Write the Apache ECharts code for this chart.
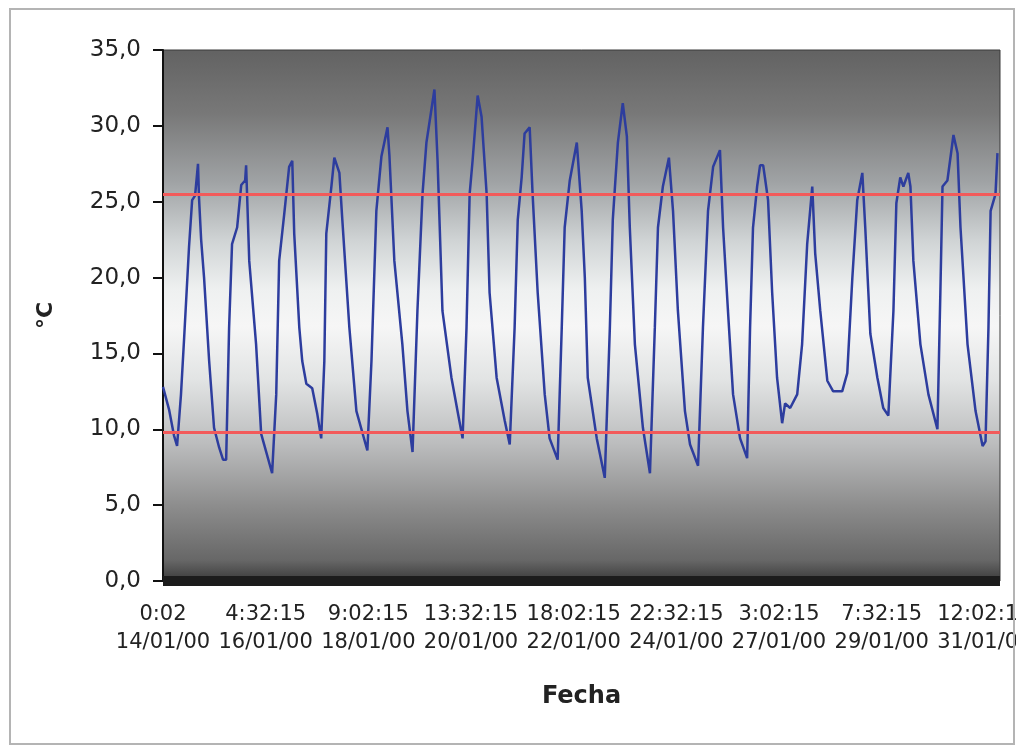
<!DOCTYPE html>
<html>
<head>
<meta charset="utf-8">
<script src="https://cdn.jsdelivr.net/npm/echarts@6/dist/echarts.min.js"></script>
<style>
html,body{margin:0;padding:0;background:#fff;}
#chart{position:absolute;left:0;top:0;width:1016px;height:747px;}
</style>
</head>
<body>
<div id="chart"></div>
<script>
// Hours elapsed since 14/01/00 0:02
const hours = [0,3.1,5.6,7.2,9.2,10.8,13.3,14.9,16.4,17.9,18.4,19.5,21.0,23.6,26.1,28.7,30.7,32.3,33.8,35.3,37.9,40.0,42.0,42.5,44.1,47.6,50.2,51.7,55.8,57.9,59.4,62.0,64.5,66.1,67.1,69.7,71.2,73.3,76.3,78.9,80.9,82.5,83.5,86.1,87.6,90.2,91.7,95.3,98.9,104.5,106.6,109.1,111.7,114.8,115.8,118.3,122.4,125.0,127.6,130.1,132.7,134.7,138.8,140.4,142.9,147.5,150.6,153.2,155.2,156.8,158.3,160.9,162.9,165.5,167.0,170.6,174.7,177.3,179.8,181.4,183.4,184.9,187.5,189.0,191.6,195.2,197.7,201.8,203.9,205.4,208.0,211.6,214.1,215.7,217.2,221.8,225.9,228.5,230.0,232.6,235.1,237.2,238.7,241.3,245.4,249.0,251.5,253.1,255.6,258.7,260.8,263.3,266.9,269.5,273.6,276.1,278.7,281.3,284.8,286.4,288.9,291.5,295.1,298.7,300.2,301.7,303.8,305.3,306.9,307.9,309.4,311.5,314.0,316.6,318.1,320.7,324.3,326.8,329.4,332.0,333.5,336.1,339.7,342.7,347.3,349.9,352.5,355.0,357.6,359.1,361.7,365.3,368.3,370.9,373.5,375.0,377.0,378.6,381.1,382.2,383.7,387.3,391.4,396.0,397.5,398.6,401.1,404.2,406.3,407.8,411.4,415.5,419.1,420.6,422.1,423.2,425.7,426.7];
// Temperature °C
const temps = [12.8,11.3,9.6,8.9,12.3,16.0,22.0,25.1,25.4,27.5,25.3,22.5,20.0,14.5,10.1,8.8,8.0,8.0,16.7,22.2,23.3,26.1,26.4,27.4,21.1,15.6,9.7,9.0,7.1,12.3,21.1,24.2,27.3,27.7,22.9,16.7,14.5,13.0,12.7,11.0,9.4,14.5,22.9,26.0,27.9,26.9,23.8,16.7,11.2,8.6,14.5,24.4,28.0,29.9,28.0,21.1,15.6,11.2,8.5,17.8,25.5,28.9,32.4,27.7,17.8,13.4,11.2,9.4,16.7,25.5,27.7,32.0,30.6,25.5,19.0,13.4,10.6,9.0,16.7,23.8,26.6,29.5,29.9,25.5,19.0,12.3,9.4,8.0,16.7,23.3,26.4,28.9,24.4,20.0,13.4,9.4,6.8,16.7,23.8,28.9,31.5,29.3,23.3,15.6,10.1,7.1,16.7,23.3,26.0,27.9,24.4,17.8,11.2,9.0,7.6,16.7,24.4,27.3,28.4,23.3,17.8,12.3,9.4,8.1,16.7,23.3,26.0,27.4,27.4,26.5,25.1,19.0,13.4,10.4,11.7,11.4,12.3,15.6,22.2,26.0,21.6,17.8,13.2,12.5,12.5,13.7,20.0,25.1,26.9,23.3,16.3,13.4,11.4,10.9,17.8,24.9,26.6,26.0,26.9,26.0,21.1,15.6,12.3,10.0,19.0,26.0,26.4,29.4,28.2,23.3,15.6,11.2,8.9,9.2,16.7,24.4,25.5,28.2];
// Limit lines
const limits = [25.5, 9.8];
// X tick labels (every 52.5 h)
const timeLabels = ['0:02','4:32:15','9:02:15','13:32:15','18:02:15','22:32:15','3:02:15','7:32:15','12:02:15'];
const dateLabels = ['14/01/00','16/01/00','18/01/00','20/01/00','22/01/00','24/01/00','27/01/00','29/01/00','31/01/00'];
const tickStep = 52.5;

const FONT = 'DejaVu Sans';
const chart = echarts.init(document.getElementById('chart'), null, {renderer:'canvas'});
chart.setOption({
  animation: false,
  backgroundColor: '#ffffff',
  graphic: [{
    type: 'rect', silent: true, z: 100,
    shape: {x: 10, y: 9, width: 1004, height: 735},
    style: {fill: 'none', stroke: '#b4b4b4', lineWidth: 2}
  }],
  grid: {
    left: 163, right: 16, top: 50, bottom: 166,
    outerBoundsMode: 'none', containLabel: false,
    show: true, borderWidth: 1, borderColor: '#3a3a3a',
    backgroundColor: new echarts.graphic.LinearGradient(0,0,0,1,[
      {offset:0, color:'#626262'},
      {offset:0.12, color:'#787878'},
      {offset:0.25, color:'#a0a3a5'},
      {offset:0.36, color:'#d0d4d5'},
      {offset:0.45, color:'#eef0f0'},
      {offset:0.52, color:'#f6f6f6'},
      {offset:0.62, color:'#e2e4e4'},
      {offset:0.74, color:'#bcbdbe'},
      {offset:0.86, color:'#8c8c8c'},
      {offset:0.96, color:'#676767'},
      {offset:1, color:'#3a3a3a'}
    ])
  },
  xAxis: {
    type: 'value', min: 0, max: 428, interval: tickStep,
    name: 'Fecha', nameLocation: 'middle', nameGap: 104,
    nameTextStyle: {fontFamily: FONT, fontSize: 24, fontWeight: 'bold', color: '#222'},
    axisLine: {show: true, lineStyle: {color: '#1c1c1c', width: 10, cap: 'butt'}},
    axisTick: {show: false},
    splitLine: {show: false},
    axisLabel: {
      margin: 20, fontFamily: FONT, fontSize: 21, lineHeight: 28, color: '#222',
      showMaxLabel: false, hideOverlap: false,
      formatter: function(v){
        const i = Math.round(v / tickStep);
        if (Math.abs(v - i * tickStep) > 0.01 || i >= timeLabels.length) return '';
        return timeLabels[i] + '\n' + dateLabels[i];
      }
    }
  },
  yAxis: {
    type: 'value', min: 0, max: 35, interval: 5,
    name: '°C', nameLocation: 'middle', nameGap: 106, nameRotate: 90,
    nameTextStyle: {fontFamily: FONT, fontSize: 22, fontWeight: 'bold', color: '#222'},
    axisLine: {show: true, lineStyle: {color: '#111', width: 2}},
    axisTick: {show: true, inside: false, length: 10, lineStyle: {color: '#111', width: 2}},
    splitLine: {show: false},
    axisLabel: {
      margin: 22, fontFamily: FONT, fontSize: 23, color: '#222',
      formatter: function(v){ return v.toFixed(1).replace('.', ','); }
    }
  },
  series: [{
    type: 'line',
    data: hours.map(function(h, i){ return [h, temps[i]]; }),
    showSymbol: false, symbol: 'none',
    lineStyle: {color: '#2d3d9e', width: 2.5},
    z: 3,
    markLine: {
      silent: true, symbol: 'none',
      label: {show: false},
      lineStyle: {color: '#f25a5a', width: 3, type: 'solid'},
      data: limits.map(function(v){ return {yAxis: v}; })
    }
  }]
});
</script>
</body>
</html>
